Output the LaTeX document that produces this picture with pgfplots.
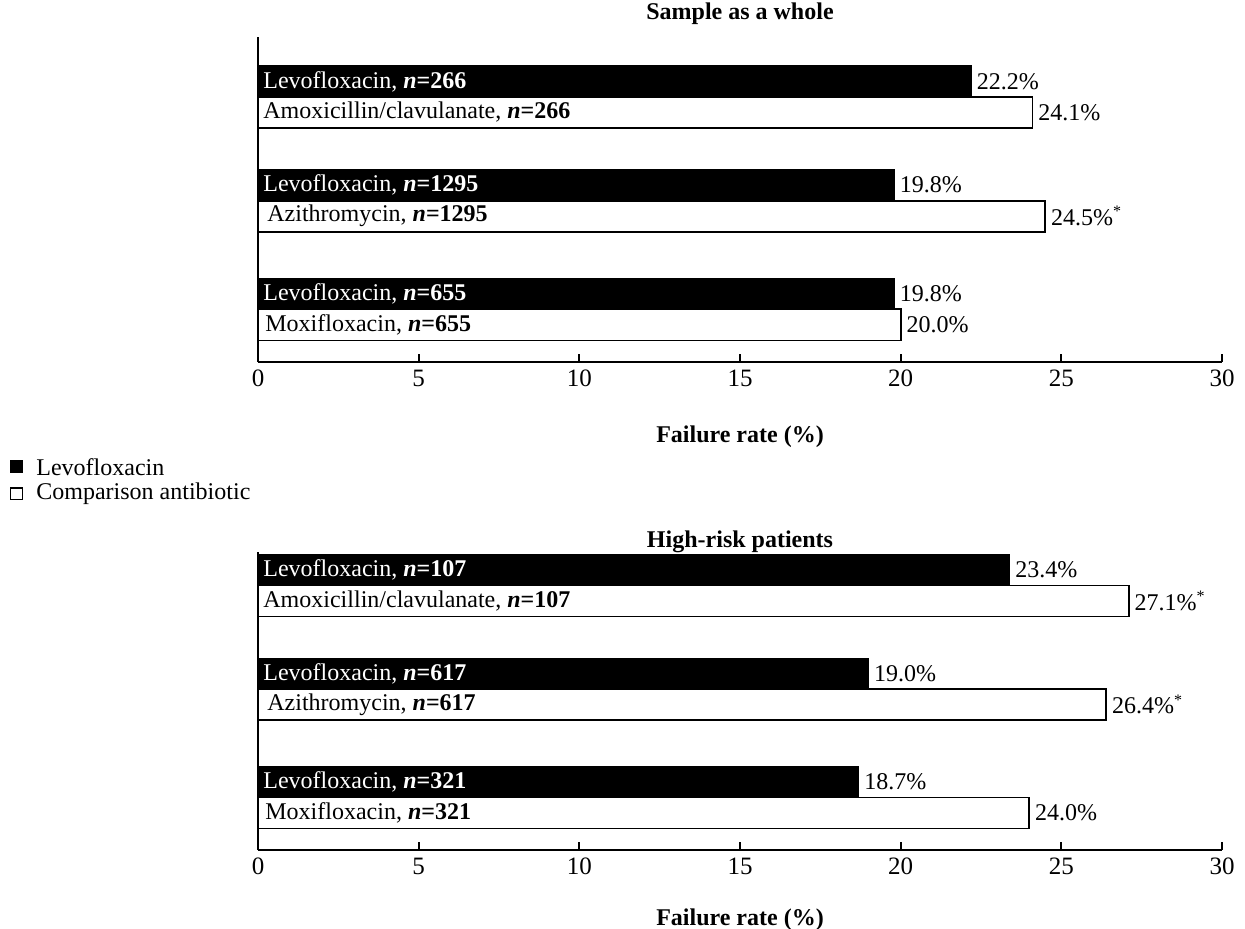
\documentclass[border=0pt]{standalone}
\usepackage{fontspec}
\setmainfont{Liberation Serif}
\usepackage{pgfplots}
\pgfplotsset{compat=1.18}

\newcommand{\nn}[1]{\textbf{\textit{n}=#1}}

\pgfplotsset{
  panel/.style={
    scale only axis, width=482pt,
    xmin=0, xmax=30, ymax=362, y dir=reverse,
    axis x line=bottom, axis y line=left,
    axis line style={-, line width=0.9pt, black},
    xtick={0,5,...,30}, ytick=\empty,
    tick align=inside, major tick length=4pt,
    tick style={line width=0.9pt, black},
    xticklabel style={font=\fontsize{12.5}{14}\selectfont, yshift=-0.5pt},
    /pgf/number format/assume math mode=true,
    xbar, bar width=31, bar shift=0pt,
    xlabel={\textbf{Failure rate (\%)}},
    xlabel style={at={(axis description cs:0.5,0)}, anchor=base,
      font=\fontsize{12}{14}\selectfont},
    title style={at={(axis description cs:0.5,1)}, anchor=base,
      font=\fontsize{12}{14}\selectfont\bfseries},
    nodes near coords, point meta=explicit symbolic,
    every node near coord/.append style={anchor=west, black, inner sep=2.5pt,
      font=\fontsize{12}{14}\selectfont},
    clip=false,
  },
  lev/.style={fill=black, draw=black, line width=0.5pt},
  cmp/.style={fill=white, draw=black, line width=0.9pt},
}
\tikzset{inlab/.style={anchor=west, inner sep=0pt, xshift=2.5pt, font=\fontsize{12}{14}\selectfont}}

\begin{document}
\begin{tikzpicture}
\path[use as bounding box] (0,0) rectangle (622.5pt,-464.5pt);

% Sample as a whole
\begin{axis}[panel, at={(129pt,-181pt)}, anchor=south west,
    ymin=38, height=162pt, title={Sample as a whole},
    title style={yshift=3pt}, xlabel style={yshift=-40pt}]
  \addplot[lev] coordinates {(22.2,82) [22.2\%] (19.8,185.5) [19.8\%] (19.8,294) [19.8\%]};
  \addplot[cmp] coordinates {(24.1,113) [24.1\%] (24.5,216.5) [24.5\%\textsuperscript{*}] (20.0,325) [20.0\%]};
  \node[inlab, text=white] at (axis cs:0,82) {Levofloxacin, \nn{266}};
  \node[inlab] at (axis cs:0,113) {Amoxicillin/clavulanate, \nn{266}};
  \node[inlab, text=white] at (axis cs:0,185.5) {Levofloxacin, \nn{1295}};
  \node[inlab, xshift=2pt] at (axis cs:0,216.5) {Azithromycin, \nn{1295}};
  \node[inlab, text=white] at (axis cs:0,294) {Levofloxacin, \nn{655}};
  \node[inlab, xshift=1pt] at (axis cs:0,325) {Moxifloxacin, \nn{655}};
\end{axis}

% High-risk patients
\begin{axis}[panel, at={(129pt,-425pt)}, anchor=south west,
    ymin=64, height=149pt, title={High-risk patients},
    title style={yshift=-3.5pt}, xlabel style={yshift=-37.5pt}]
  \addplot[lev] coordinates {(23.4,82) [23.4\%] (19.0,185.5) [19.0\%] (18.7,294) [18.7\%]};
  \addplot[cmp] coordinates {(27.1,113) [27.1\%\textsuperscript{*}] (26.4,216.5) [26.4\%\textsuperscript{*}] (24.0,325) [24.0\%]};
  \node[inlab, text=white] at (axis cs:0,82) {Levofloxacin, \nn{107}};
  \node[inlab] at (axis cs:0,113) {Amoxicillin/clavulanate, \nn{107}};
  \node[inlab, text=white] at (axis cs:0,185.5) {Levofloxacin, \nn{617}};
  \node[inlab, xshift=2pt] at (axis cs:0,216.5) {Azithromycin, \nn{617}};
  \node[inlab, text=white] at (axis cs:0,294) {Levofloxacin, \nn{321}};
  \node[inlab, xshift=1pt] at (axis cs:0,325) {Moxifloxacin, \nn{321}};
\end{axis}

% legend
\fill[black] (5pt,-230.25pt) rectangle (11.5pt,-236.75pt);
\node[anchor=west, inner sep=0pt, font=\fontsize{12}{14}\selectfont] at (18pt,-233.5pt) {Levofloxacin};
\draw[black, line width=0.6pt] (5.3pt,-244.05pt) rectangle (11.2pt,-249.95pt);
\node[anchor=west, inner sep=0pt, font=\fontsize{12}{14}\selectfont] at (18pt,-247pt) {Comparison antibiotic};
\end{tikzpicture}
\end{document}
